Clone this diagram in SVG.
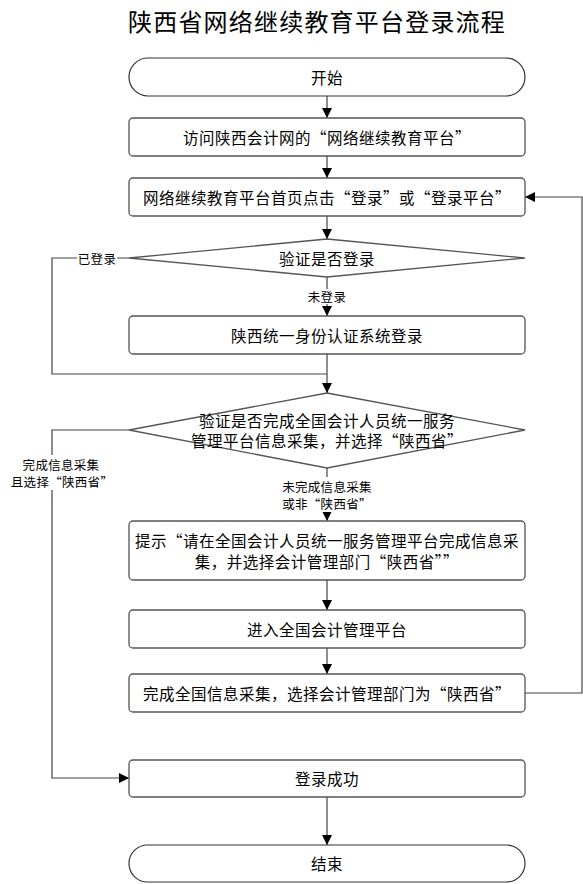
<svg xmlns="http://www.w3.org/2000/svg" width="583" height="884" viewBox="0 0 583 884">
<style>
.box{fill:#fff;stroke:#555;stroke-width:1.3}
.pill{fill:#fff;stroke:#333;stroke-width:1.2}
.t{font-family:"Noto Sans CJK SC","Liberation Sans",sans-serif;font-size:15.5px;fill:#000;text-anchor:middle;dominant-baseline:central;letter-spacing:0.5px}
.lb{font-family:"Noto Sans CJK SC","Liberation Sans",sans-serif;font-size:12.5px;fill:#000;text-anchor:middle;dominant-baseline:central;letter-spacing:0.3px}
.c{fill:none;stroke:#444;stroke-width:1.2}
.title{font-family:"Noto Sans CJK SC","Liberation Sans",sans-serif;font-size:24px;fill:#000;text-anchor:middle;dominant-baseline:central;letter-spacing:1.2px}
</style>
<defs>
<marker id="ah" viewBox="0 0 10 10" refX="10" refY="5" markerWidth="10" markerHeight="10" markerUnits="userSpaceOnUse" orient="auto">
<path d="M0,0 L10,5 L0,10 z" fill="#000"/>
</marker>
</defs>
<rect width="583" height="884" fill="#fff"/>
<text class="title" x="317" y="20">陕西省网络继续教育平台登录流程</text>

<g id="connectors">
<path class="c" d="M327,96 V118" marker-end="url(#ah)"/>
<path class="c" d="M327,156 V178" marker-end="url(#ah)"/>
<path class="c" d="M327,216 V239" marker-end="url(#ah)"/>
<path class="c" d="M327,277 V316" marker-end="url(#ah)"/>
<path class="c" d="M327,354 V393" marker-end="url(#ah)"/>
<path class="c" d="M129,258 H52 V374 H327"/>
<path class="c" d="M327,468 V521" marker-end="url(#ah)"/>
<path class="c" d="M129,430 H52 V778 H129" marker-end="url(#ah)"/>
<path class="c" d="M327,580 V610" marker-end="url(#ah)"/>
<path class="c" d="M327,648 V674" marker-end="url(#ah)"/>
<path class="c" d="M525,693 H582 V197 H525" marker-end="url(#ah)"/>
<path class="c" d="M327,797 V845" marker-end="url(#ah)"/>
<rect x="77" y="250" width="40" height="16" fill="#fff"/>
<text class="lb" x="97" y="258">已登录</text>
<rect x="306" y="289" width="42" height="15" fill="#fff"/>
<text class="lb" x="327" y="296">未登录</text>
<rect x="277" y="477" width="100" height="35" fill="#fff"/>
<text class="lb" x="327" y="486">未完成信息采集</text>
<text class="lb" x="327" y="503.5">或非“陕西省”</text>
<rect x="16" y="455" width="100" height="35" fill="#fff"/>
<text class="lb" x="61" y="464">完成信息采集</text>
<text class="lb" x="62" y="481.5">且选择“陕西省”</text>
</g>

<g id="start">
<rect class="pill" x="129" y="58" width="396" height="38" rx="19"/>
<text class="t" x="327" y="77">开始</text>
</g>
<g id="visit">
<rect class="box" x="129" y="118" width="396" height="38" rx="4"/>
<text class="t" x="327" y="137">访问陕西会计网的“网络继续教育平台”</text>
</g>
<g id="click">
<rect class="box" x="129" y="178" width="396" height="38" rx="4"/>
<text class="t" x="327" y="197">网络继续教育平台首页点击“登录”或“登录平台”</text>
</g>
<g id="check-login">
<polygon class="box" points="327,239 525,258 327,277 129,258"/>
<text class="t" x="327" y="258">验证是否登录</text>
</g>
<g id="sso">
<rect class="box" x="129" y="316" width="396" height="38" rx="4"/>
<text class="t" x="327" y="335">陕西统一身份认证系统登录</text>
</g>
<g id="check-info">
<polygon class="box" points="327,393 525,430 327,468 129,430"/>
<text class="t" x="327" y="420">验证是否完成全国会计人员统一服务</text>
<text class="t" x="327" y="440">管理平台信息采集，并选择“陕西省”</text>
</g>
<g id="prompt">
<rect class="box" x="129" y="521" width="396" height="59" rx="4"/>
<text class="t" x="327" y="540">提示“请在全国会计人员统一服务管理平台完成信息采</text>
<text class="t" x="327" y="561">集，并选择会计管理部门“陕西省””</text>
</g>
<g id="enter">
<rect class="box" x="129" y="610" width="396" height="38" rx="4"/>
<text class="t" x="327" y="629">进入全国会计管理平台</text>
</g>
<g id="complete">
<rect class="box" x="129" y="674" width="396" height="38" rx="4"/>
<text class="t" x="327" y="693">完成全国信息采集，选择会计管理部门为“陕西省”</text>
</g>
<g id="success">
<rect class="box" x="129" y="760" width="396" height="37" rx="4"/>
<text class="t" x="327" y="778">登录成功</text>
</g>
<g id="end">
<rect class="pill" x="129" y="845" width="396" height="37" rx="18.5"/>
<text class="t" x="327" y="863">结束</text>
</g>
</svg>
